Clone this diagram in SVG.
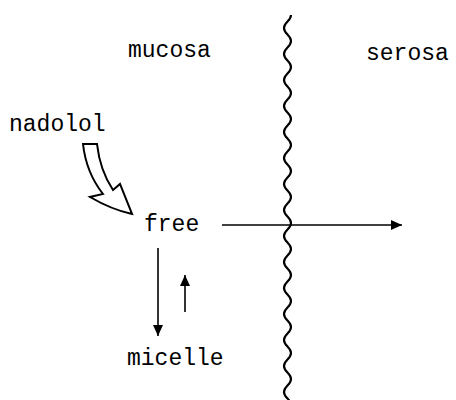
<svg xmlns="http://www.w3.org/2000/svg" width="456" height="400" viewBox="0 0 456 400">
<style>
  text { font-family: "Liberation Mono", "Courier New", monospace; font-size: 23px; fill: #000; }
  .ln { stroke: #000; stroke-width: 1.6; fill: none; }
</style>
<defs>
  <marker id="ah" markerUnits="userSpaceOnUse" markerWidth="12" markerHeight="12" viewBox="0 0 12 12" refX="11" refY="6" orient="auto">
    <path d="M0,1 L11,6 L0,11 Z" fill="#000"/>
  </marker>
</defs>
<rect width="456" height="400" fill="#fff"/>
<g id="labels">
  <text id="mucosa" x="128" y="57">mucosa</text>
  <text id="serosa" x="366" y="60">serosa</text>
</g>
<g id="membrane">
  <path d="M 291 15 c 0 6 -7 7 -7 13 s 7 7 7 13 s -7 7 -7 13 s 7 7 7 13 s -7 7 -7 13 s 7 7 7 13 s -7 7 -7 13 s 7 7 7 13 s -7 7 -7 13 s 7 7 7 13 s -7 7 -7 13 s 7 7 7 13 s -7 7 -7 13 s 7 7 7 13 s -7 7 -7 13 s 7 7 7 13 s -7 7 -7 13 s 7 7 7 13 s -7 7 -7 13 s 7 7 7 13 s -7 7 -7 13 s 7 7 7 13 s -7 7 -7 13 s 7 7 7 13 s -7 7 -7 13 s 7 7 7 13 s -7 7 -7 13 s 7 7 7 13 s -7 7 -7 13 s 7 7 7 13" fill="none" stroke="#000" stroke-width="2.2"/>
</g>
<g id="nadolol"><text x="9" y="131">nadolol</text></g>
<g id="free"><text x="144" y="231">free</text></g>
<g id="micelle"><text x="127" y="365">micelle</text></g>
<g id="connectors">
  <path id="uptake" d="M 83 144 L 97 144 C 99 162, 105 178, 113 190 L 120 184 L 132 214 C 118 211, 102 204, 90 197 L 103 194 C 92 180, 85 162, 83 144 Z" fill="#fff" stroke="#000" stroke-width="2" stroke-linejoin="miter"/>
  <line class="ln" x1="222" y1="225" x2="402" y2="225" marker-end="url(#ah)"/>
  <line class="ln" x1="158" y1="248" x2="158" y2="336" marker-end="url(#ah)"/>
  <line class="ln" x1="185" y1="312" x2="185" y2="275" marker-end="url(#ah)"/>
</g>
</svg>
